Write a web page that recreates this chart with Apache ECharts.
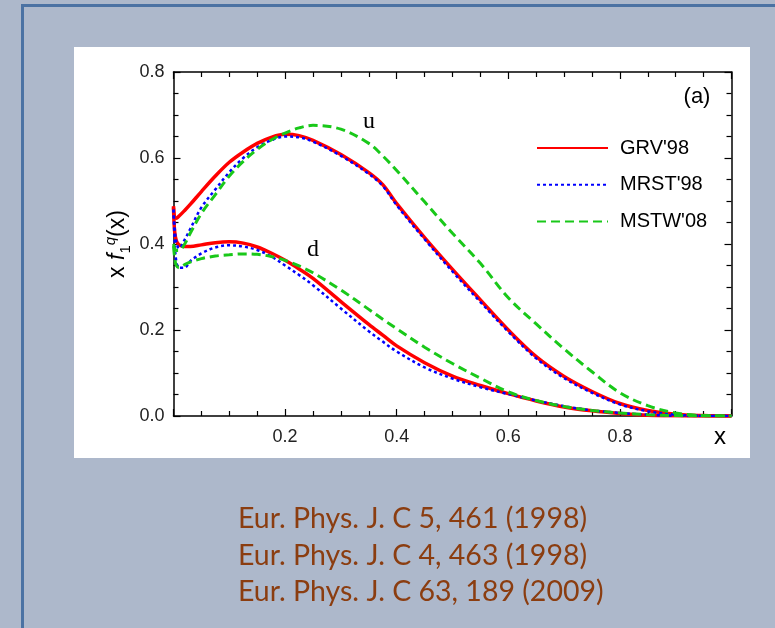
<!DOCTYPE html>
<html>
<head>
<meta charset="utf-8">
<script src="https://cdn.jsdelivr.net/npm/echarts@6/dist/echarts.min.js"></script>
<style>
html, body { margin: 0; padding: 0; background: #adb8cb; }
#chart { width: 775px; height: 628px; }
</style>
</head>
<body>
<div id="chart"></div>
<script>
// x grid shared by all curves
const xs = [0, 0.002, 0.005, 0.01, 0.02, 0.03, 0.05, 0.075, 0.1, 0.125, 0.15, 0.175, 0.2, 0.225, 0.25,
  0.3, 0.35, 0.375, 0.4, 0.45, 0.5, 0.55, 0.6, 0.65, 0.7, 0.75, 0.8, 0.85, 0.9, 0.95, 1.0];

// u quark
const grvU  = [0.488, 0.462, 0.460, 0.465, 0.478, 0.492, 0.522, 0.558, 0.590, 0.614, 0.634, 0.648, 0.655, 0.652, 0.641,
  0.608, 0.566, 0.538, 0.494, 0.415, 0.341, 0.270, 0.200, 0.138, 0.092, 0.057, 0.029, 0.013, 0.004, 0.001, 0];
const mrstU = [0.480, 0.440, 0.405, 0.390, 0.410, 0.435, 0.485, 0.527, 0.567, 0.600, 0.625, 0.641, 0.650, 0.648, 0.638,
  0.605, 0.563, 0.535, 0.490, 0.411, 0.336, 0.265, 0.196, 0.134, 0.088, 0.054, 0.027, 0.011, 0.003, 0.0005, 0];
const mstwU = [0.400, 0.390, 0.385, 0.385, 0.400, 0.425, 0.471, 0.515, 0.558, 0.592, 0.620, 0.642, 0.658, 0.670, 0.676,
  0.667, 0.634, 0.605, 0.571, 0.498, 0.425, 0.355, 0.275, 0.214, 0.156, 0.103, 0.054, 0.024, 0.007, 0.001, 0];

// d quark
const grvD  = [0.485, 0.430, 0.408, 0.398, 0.394, 0.394, 0.398, 0.403, 0.405, 0.402, 0.393, 0.379, 0.362, 0.342, 0.320,
  0.266, 0.213, 0.188, 0.163, 0.124, 0.093, 0.071, 0.052, 0.035, 0.021, 0.012, 0.006, 0.002, 0.0005, 0, 0];
const mrstD = [0.480, 0.410, 0.360, 0.345, 0.345, 0.360, 0.378, 0.392, 0.397, 0.394, 0.386, 0.371, 0.350, 0.328, 0.304,
  0.250, 0.197, 0.173, 0.150, 0.113, 0.087, 0.067, 0.051, 0.036, 0.023, 0.013, 0.007, 0.003, 0.0005, 0, 0];
const mstwD = [0.395, 0.370, 0.350, 0.345, 0.352, 0.358, 0.366, 0.372, 0.375, 0.377, 0.376, 0.371, 0.362, 0.349, 0.333,
  0.293, 0.248, 0.225, 0.203, 0.160, 0.122, 0.088, 0.056, 0.036, 0.022, 0.013, 0.007, 0.003, 0.001, 0, 0];

const legendNames = ["GRV'98", "MRST'98", "MSTW'08"];
const citations = [
  'Eur. Phys. J. C 5, 461 (1998)',
  'Eur. Phys. J. C 4, 463 (1998)',
  'Eur. Phys. J. C 63, 189 (2009)'
];

function pairs(ys) {
  return xs.map((x, i) => [x, ys[i]]);
}

const styles = {
  "GRV'98": { color: '#ff0000', width: 3.5, type: 'solid' },
  "MRST'98": { color: '#0000ff', width: 2.5, type: [3, 3] },
  "MSTW'08": { color: '#19c819', width: 3, type: [9, 5] }
};

function curve(name, ys) {
  let s = styles[name];
  return {
    name: name,
    type: 'line',
    xAxisIndex: 0,
    yAxisIndex: 0,
    data: pairs(ys),
    smooth: 0.35,
    symbol: 'none',
    color: s.color,
    lineStyle: { color: s.color, width: s.width, type: s.type },
    z: 3
  };
}

const chart = echarts.init(document.getElementById('chart'));

const axisCommon = {
  min: 0,
  axisLine: { show: true, onZero: false, lineStyle: { color: '#000', width: 1.5 } },
  axisTick: { show: true, inside: true, length: 7, lineStyle: { color: '#000', width: 1.2 } },
  minorTick: { show: true, splitNumber: 4, length: 5, lineStyle: { color: '#000', width: 1.2 } },
  splitLine: { show: false }
};

const option = {
  backgroundColor: '#adb8cb',
  animation: false,
  graphic: [
    { type: 'rect', shape: { x: 21, y: 4, width: 754, height: 3 }, style: { fill: '#4b72a3' }, z: -10 },
    { type: 'rect', shape: { x: 21, y: 4, width: 3, height: 624 }, style: { fill: '#4b72a3' }, z: -10 },
    { type: 'rect', shape: { x: 74, y: 47, width: 676, height: 411 }, style: { fill: '#ffffff' }, z: -10 },
    {
      type: 'text', x: 118, y: 244, rotation: Math.PI / 2,
      style: {
        text: '{a|x }{f|f}{s|1}{q|q}{a|(x)}',
        align: 'center', verticalAlign: 'middle',
        rich: {
          a: { fontFamily: 'Arial', fontSize: 23, lineHeight: 30, fill: '#000' },
          f: { fontFamily: 'Arial', fontStyle: 'italic', fontSize: 23, lineHeight: 30, fill: '#000' },
          s: { fontFamily: 'Arial', fontSize: 15, lineHeight: 30, verticalAlign: 'bottom', fill: '#000' },
          q: { fontFamily: 'Arial', fontStyle: 'italic', fontSize: 15, lineHeight: 30, verticalAlign: 'top', fill: '#000' }
        }
      }
    },
    { type: 'text', x: 720, y: 437, style: { text: 'x', fontFamily: 'Arial', fontSize: 24, fill: '#000', align: 'center', verticalAlign: 'middle' } },
    { type: 'text', x: 697, y: 97, style: { text: '(a)', fontFamily: 'Arial', fontSize: 22, fill: '#000', align: 'center', verticalAlign: 'middle' } },
    { type: 'text', x: 369, y: 122, style: { text: 'u', fontFamily: 'Liberation Serif', fontSize: 24, fill: '#000', align: 'center', verticalAlign: 'middle' } },
    { type: 'text', x: 313, y: 250, style: { text: 'd', fontFamily: 'Liberation Serif', fontSize: 24, fill: '#000', align: 'center', verticalAlign: 'middle' } }
  ].concat(citations.map((t, i) => ({
    type: 'text', x: 238, y: 519 + i * 36.5,
    style: { text: t, fontFamily: 'Lato', fontSize: 28.5, fill: '#8b3d10', align: 'left', verticalAlign: 'middle' }
  }))),
  legend: {
    data: legendNames,
    orient: 'vertical',
    left: 531,
    top: 133,
    itemWidth: 71,
    itemHeight: 20,
    itemGap: 16.7,
    itemStyle: { opacity: 0 },
    textStyle: { fontFamily: 'Arial', fontSize: 20, color: '#000', padding: [0, 0, 0, 7] }
  },
  grid: { left: 173.5, top: 72, width: 558, height: 344, containLabel: false },
  xAxis: [
    Object.assign({}, axisCommon, {
      type: 'value', position: 'bottom', max: 1, interval: 0.2,
      axisLabel: {
        show: true, margin: 12, showMinLabel: false, showMaxLabel: false,
        fontFamily: 'Arial', fontSize: 18, color: '#222',
        formatter: v => v.toFixed(1)
      }
    }),
    Object.assign({}, axisCommon, {
      type: 'value', position: 'top', max: 1, interval: 0.2,
      axisLabel: { show: false }
    })
  ],
  yAxis: [
    Object.assign({}, axisCommon, {
      type: 'value', position: 'left', max: 0.8, interval: 0.2,
      axisLabel: {
        show: true, margin: 9,
        fontFamily: 'Arial', fontSize: 18, color: '#222',
        formatter: v => v.toFixed(1)
      }
    }),
    Object.assign({}, axisCommon, {
      type: 'value', position: 'right', max: 0.8, interval: 0.2,
      axisLabel: { show: false }
    })
  ],
  series: [
    curve("GRV'98", grvU),
    curve("GRV'98", grvD),
    curve("MRST'98", mrstU),
    curve("MRST'98", mrstD),
    curve("MSTW'08", mstwU),
    curve("MSTW'08", mstwD)
  ]
};

chart.setOption(option);
</script>
</body>
</html>
